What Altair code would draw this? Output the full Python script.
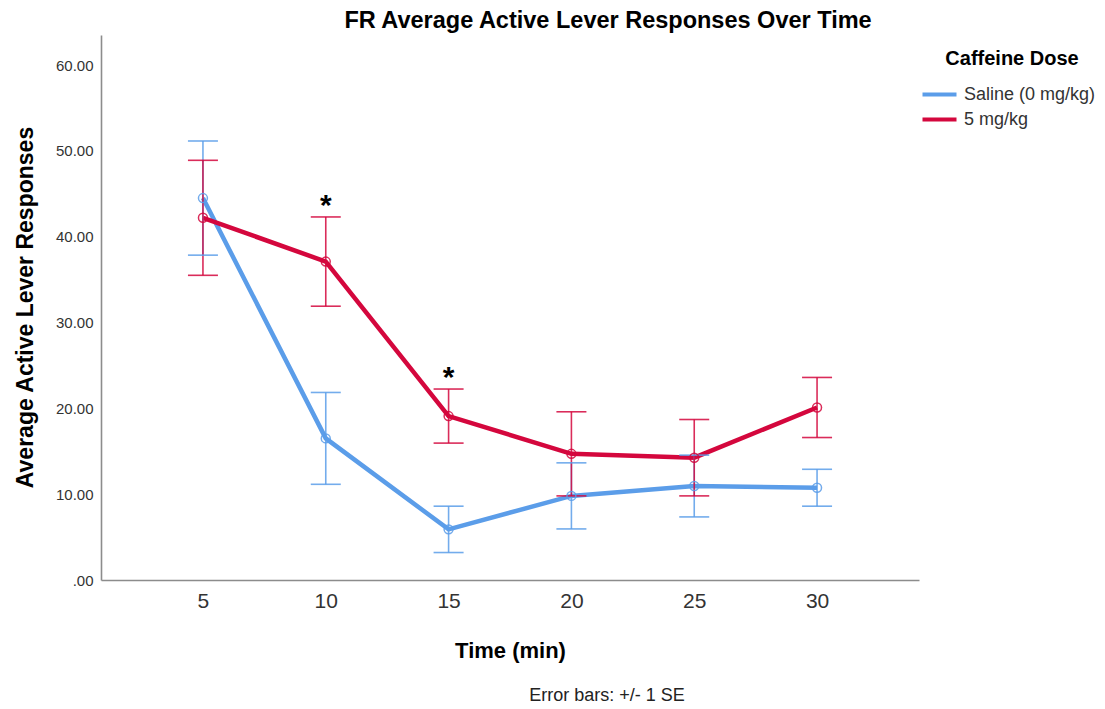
import altair as alt
import pandas as pd

# Session time bins (minutes)
time_min = [5, 10, 15, 20, 25, 30]

# Group means and standard errors of active lever responses
doses = ["Saline (0 mg/kg)", "5 mg/kg"]
saline_mean = [44.5, 16.5, 5.9, 9.8, 10.95, 10.75]
saline_se = [6.65, 5.35, 2.7, 3.85, 3.6, 2.15]
caffeine_mean = [42.2, 37.1, 19.1, 14.7, 14.25, 20.1]
caffeine_se = [6.7, 5.2, 3.15, 4.9, 4.45, 3.5]

# Time bins with a significant group difference
sig_times = [10, 15]

y_ticks = [0, 10, 20, 30, 40, 50, 60]
colors = ["#5b9de9", "#d4073d"]
FONT = "Liberation Sans"

rows = []
for dose, means, ses in [(doses[0], saline_mean, saline_se),
                         (doses[1], caffeine_mean, caffeine_se)]:
    for t, m, s in zip(time_min, means, ses):
        rows.append({"time": t, "dose": dose, "mean": m, "lo": m - s, "hi": m + s})
df = pd.DataFrame(rows)

caf = df[df["dose"] == doses[1]].set_index("time")
sig_df = pd.DataFrame({"time": sig_times,
                       "ypos": [caf.loc[t, "hi"] + 2.2 for t in sig_times]})

x_scale = alt.Scale(type="point", padding=0.83, domain=time_min)
y_scale = alt.Scale(domain=[0, 63.5], nice=False)
color_scale = alt.Scale(domain=doses, range=colors)

x_enc = alt.X(
    "time:O", scale=x_scale,
    axis=alt.Axis(
        title="Time (min)", labelAngle=0, ticks=False, grid=False,
        labelFontSize=21, labelColor="#333333", labelFont=FONT, labelPadding=10,
        domainColor="#8c8c8c", domainWidth=1.6,
        titleFont=FONT, titleFontSize=22, titleFontWeight="bold", titleColor="#000000",
        titleY=70, titleBaseline="middle",
    ),
)

y_axis = alt.Axis(
    title="Average Active Lever Responses", values=y_ticks,
    labelExpr="datum.value == 0 ? '.00' : format(datum.value, '.2f')",
    ticks=False, grid=False, labelFontSize=15, labelColor="#333333", labelFont=FONT,
    labelPadding=8, domainColor="#8c8c8c", domainWidth=1.6,
    titleFont=FONT, titleFontSize=23, titleFontWeight="bold", titleColor="#000000",
    titleX=-76, titleY=272, titleBaseline="middle", titleAngle=270,
)

base = alt.Chart(df).encode(x=x_enc)

# Legend swatch: a flat line twice as long as the symbol slot
lines = base.mark_line(strokeWidth=4.5).encode(
    y=alt.Y("mean:Q", scale=y_scale, axis=y_axis),
    color=alt.Color(
        "dose:N", scale=color_scale, sort=doses,
        legend=alt.Legend(
            title="Caffeine Dose", orient="none", legendX=828, legendY=14,
            padding=0, titleFont=FONT, titleFontSize=20, titleFontWeight="bold",
            titleColor="#000000", titleAnchor="middle", titlePadding=15,
            labelFont=FONT, labelFontSize=18, labelColor="#333333", labelOffset=14,
            symbolType="M-2,0H2", symbolStrokeWidth=4, symbolSize=289,
            symbolFillColor="transparent", rowPadding=5,
        ),
    ),
    detail="dose:N",
)

err_color = alt.Color("dose:N", scale=color_scale, sort=doses, legend=None)

bars = base.mark_rule(strokeWidth=1.6, opacity=0.85).encode(
    y=alt.Y("lo:Q", scale=y_scale), y2="hi:Q", color=err_color)
caps_hi = base.mark_tick(size=30, thickness=1.6, opacity=0.85).encode(
    y=alt.Y("hi:Q", scale=y_scale), color=err_color)
caps_lo = base.mark_tick(size=30, thickness=1.6, opacity=0.85).encode(
    y=alt.Y("lo:Q", scale=y_scale), color=err_color)
points = base.mark_point(shape="circle", filled=False, size=80, strokeWidth=1.5,
                         opacity=0.85).encode(
    y=alt.Y("mean:Q", scale=y_scale), color=err_color)

stars = alt.Chart(sig_df).mark_text(
    text="*", font=FONT, fontSize=30, fontWeight="bold", color="#000000",
    baseline="alphabetic", dy=17,
).encode(x=alt.X("time:O", scale=x_scale), y=alt.Y("ypos:Q", scale=y_scale))

note = alt.Chart(pd.DataFrame({"note": ["Error bars:  +/- 1 SE"]})).mark_text(
    font=FONT, fontSize=18, color="#222222", align="center", baseline="middle",
).encode(text="note:N", x=alt.value(506), y=alt.value(661))

chart = alt.layer(lines, bars, caps_hi, caps_lo, points, stars, note).properties(
    width=818, height=545,
    padding={"left": 101, "top": 35, "right": 186, "bottom": 129},
    autosize=alt.AutoSizeParams(type="none"),
    title=alt.TitleParams(
        "FR Average Active Lever Responses Over Time", font=FONT, fontSize=23.5,
        fontWeight="bold", color="#000000", anchor="middle", frame="group",
        dx=98, dy=24, offset=8, baseline="alphabetic",
    ),
).configure_view(stroke=None)

chart.save("out.html", embed_options={"renderer": "svg", "actions": False})
